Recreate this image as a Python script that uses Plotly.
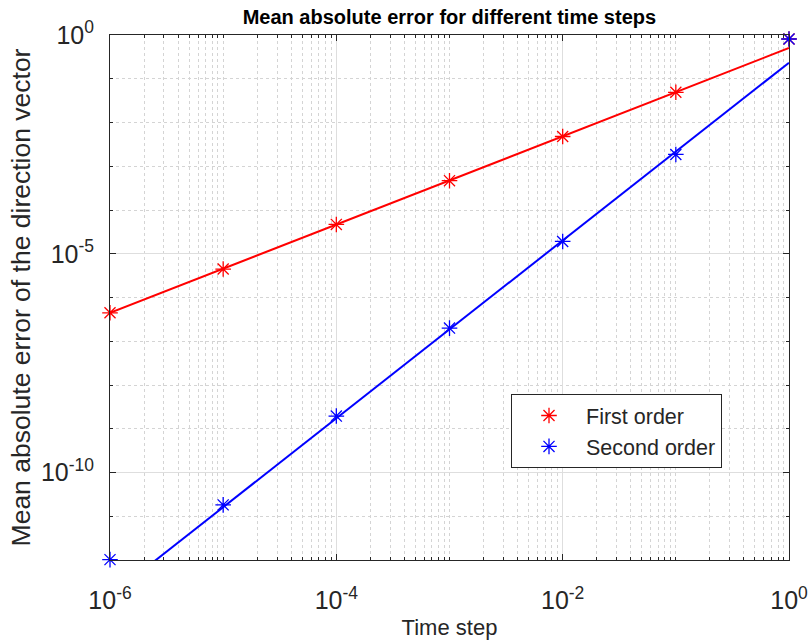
import numpy as np
import plotly.graph_objects as go

# Time steps used in the convergence study
dt = [1e-6, 1e-5, 1e-4, 1e-3, 1e-2, 1e-1, 1e0]

# Mean absolute error of the direction vector for each scheme
err_first = [4.47e-7, 4.47e-6, 4.68e-5, 4.68e-4, 4.79e-3, 4.90e-2, 0.81]
err_second = [1.02e-12, 1.82e-11, 1.95e-9, 2.0e-7, 1.91e-5, 1.86e-3, 0.81]

# Power-law fits err = c * dt^p (log-log least squares)
fit_first_p, fit_first_c = 1.009, 0.505
fit_second_p, fit_second_c = 2.032, 0.233

# Axis ticks
x_major = [1e-6, 1e-4, 1e-2, 1e0]
x_major_text = ["10<sup>-6</sup>", "10<sup>-4</sup>", "10<sup>-2</sup>", "10<sup>0</sup>"]
y_major = [1e-10, 1e-5, 1e0]
y_major_text = ["10<sup>-10</sup>", "10<sup>-5</sup>", "10<sup>0</sup>"]

x_minor = [m * 10.0 ** k for k in range(-6, 0) for m in range(1, 10)
           if not (m == 1 and k % 2 == 0)]
y_minor = [10.0 ** k for k in range(-12, 1) if k not in (-10, -5, 0)]

FONT = "Liberation Sans, Arial, Helvetica, sans-serif"
AX = "#262626"
RED = "#ff0000"
BLUE = "#0000ff"

fit_x = np.array(dt)
fig = go.Figure()
fig.add_trace(go.Scatter(x=fit_x, y=fit_first_c * fit_x ** fit_first_p, mode="lines",
                         line=dict(color=RED, width=2), showlegend=False,
                         hoverinfo="skip"))
fig.add_trace(go.Scatter(x=fit_x, y=fit_second_c * fit_x ** fit_second_p, mode="lines",
                         line=dict(color=BLUE, width=2), showlegend=False,
                         hoverinfo="skip"))
fig.add_trace(go.Scatter(x=dt, y=err_first, mode="markers", name="First order",
                         marker=dict(symbol="asterisk-open", size=13, color=RED,
                                     line=dict(color=RED, width=1.3)),
                         cliponaxis=False))
fig.add_trace(go.Scatter(x=dt, y=err_second, mode="markers", name="Second order",
                         marker=dict(symbol="asterisk-open", size=13, color=BLUE,
                                     line=dict(color=BLUE, width=1.3)),
                         cliponaxis=False))

axis_common = dict(
    type="log", showline=True, linecolor=AX, linewidth=1, mirror="allticks",
    ticks="inside", ticklen=6, tickcolor=AX, tickwidth=1, automargin=False,
    showgrid=True, gridcolor="#dedede", gridwidth=1, zeroline=False,
    tickfont=dict(family=FONT, size=25, color=AX),
)

fig.update_xaxes(
    **axis_common, range=[-6, 0], tickmode="array", tickvals=x_major, ticktext=x_major_text,
    ticklabelstandoff=18,
    minor=dict(tickmode="array", tickvals=x_minor, ticks="inside", ticklen=3,
               tickcolor=AX, showgrid=True, gridcolor="#d4d4d4", griddash="dot"),
    title=dict(text="Time step", font=dict(family=FONT, size=22, color=AX), standoff=6),
)
fig.update_yaxes(
    **axis_common, range=[-12, 0], tickmode="array", tickvals=y_major, ticktext=y_major_text,
    ticklabelstandoff=10,
    minor=dict(tickmode="array", tickvals=y_minor, ticks="inside", ticklen=3,
               tickcolor=AX, showgrid=True, gridcolor="#d4d4d4", griddash="dot"),
    title=dict(text="Mean absolute error of the direction vector",
               font=dict(family=FONT, size=26.5, color=AX), standoff=2),
)

fig.update_layout(
    width=809, height=642,
    margin=dict(l=110, r=20, t=35, b=82),
    paper_bgcolor="white", plot_bgcolor="white",
    title=dict(text="<b>Mean absolute error for different time steps</b>",
               font=dict(family=FONT, size=20, color="#000000"),
               x=0.5555, xanchor="center", y=1 - 17 / 642, yanchor="middle"),
    legend=dict(x=(511 - 110) / 679, y=(560 - 394) / 525, xanchor="left", yanchor="top",
                bgcolor="white", bordercolor=AX, borderwidth=1,
                font=dict(family=FONT, size=21.5, color=AX), itemwidth=64),
    showlegend=True,
)

fig.write_html("out.html")
